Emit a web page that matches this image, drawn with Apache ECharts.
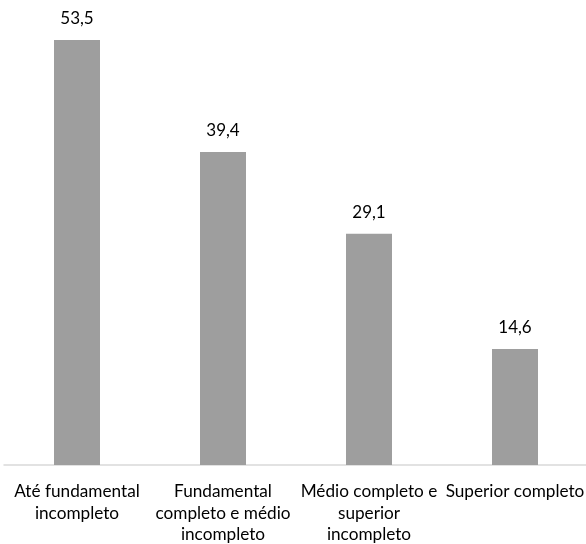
<!DOCTYPE html>
<html>
<head>
<meta charset="utf-8">
<script src="https://cdn.jsdelivr.net/npm/echarts@6/dist/echarts.min.js"></script>
<style>
  html, body { margin: 0; padding: 0; background: #fff; }
  #chart { width: 586px; height: 544px; }
</style>
</head>
<body>
<div id="chart"></div>
<script>
// Education level categories (line breaks as shown under the axis)
const categories = [
  'Até fundamental\nincompleto',
  'Fundamental\ncompleto e médio\nincompleto',
  'Médio completo e\nsuperior\nincompleto',
  'Superior completo'
];
// Percentages per education level
const values = [53.5, 39.4, 29.1, 14.6];

const FONT = 'Lato';

const chart = echarts.init(document.getElementById('chart'), null, { renderer: 'canvas' });
chart.setOption({
  animation: false,
  backgroundColor: '#ffffff',
  grid: {
    left: 4, top: 40, width: 584, bottom: 79,
    containLabel: false,
    outerBoundsMode: 'none'
  },
  xAxis: {
    type: 'category',
    data: categories,
    axisLine: { show: true, lineStyle: { color: '#D9D9D9', width: 1.5 } },
    axisTick: { show: false },
    axisLabel: {
      interval: 0,
      margin: 16,
      color: '#000000',
      fontFamily: FONT,
      fontSize: 17.2,
      lineHeight: 21.5,
      align: 'center'
    }
  },
  yAxis: {
    type: 'value',
    min: 0,
    max: 53.5,
    show: false,
    splitLine: { show: false }
  },
  series: [{
    type: 'bar',
    data: values,
    barWidth: 46,
    itemStyle: { color: '#9E9E9E' },
    label: {
      show: true,
      position: 'top',
      distance: 13,
      color: '#000000',
      fontFamily: FONT,
      fontSize: 17,
      formatter: p => String(p.value).replace('.', ',')
    }
  }]
});
</script>
</body>
</html>
